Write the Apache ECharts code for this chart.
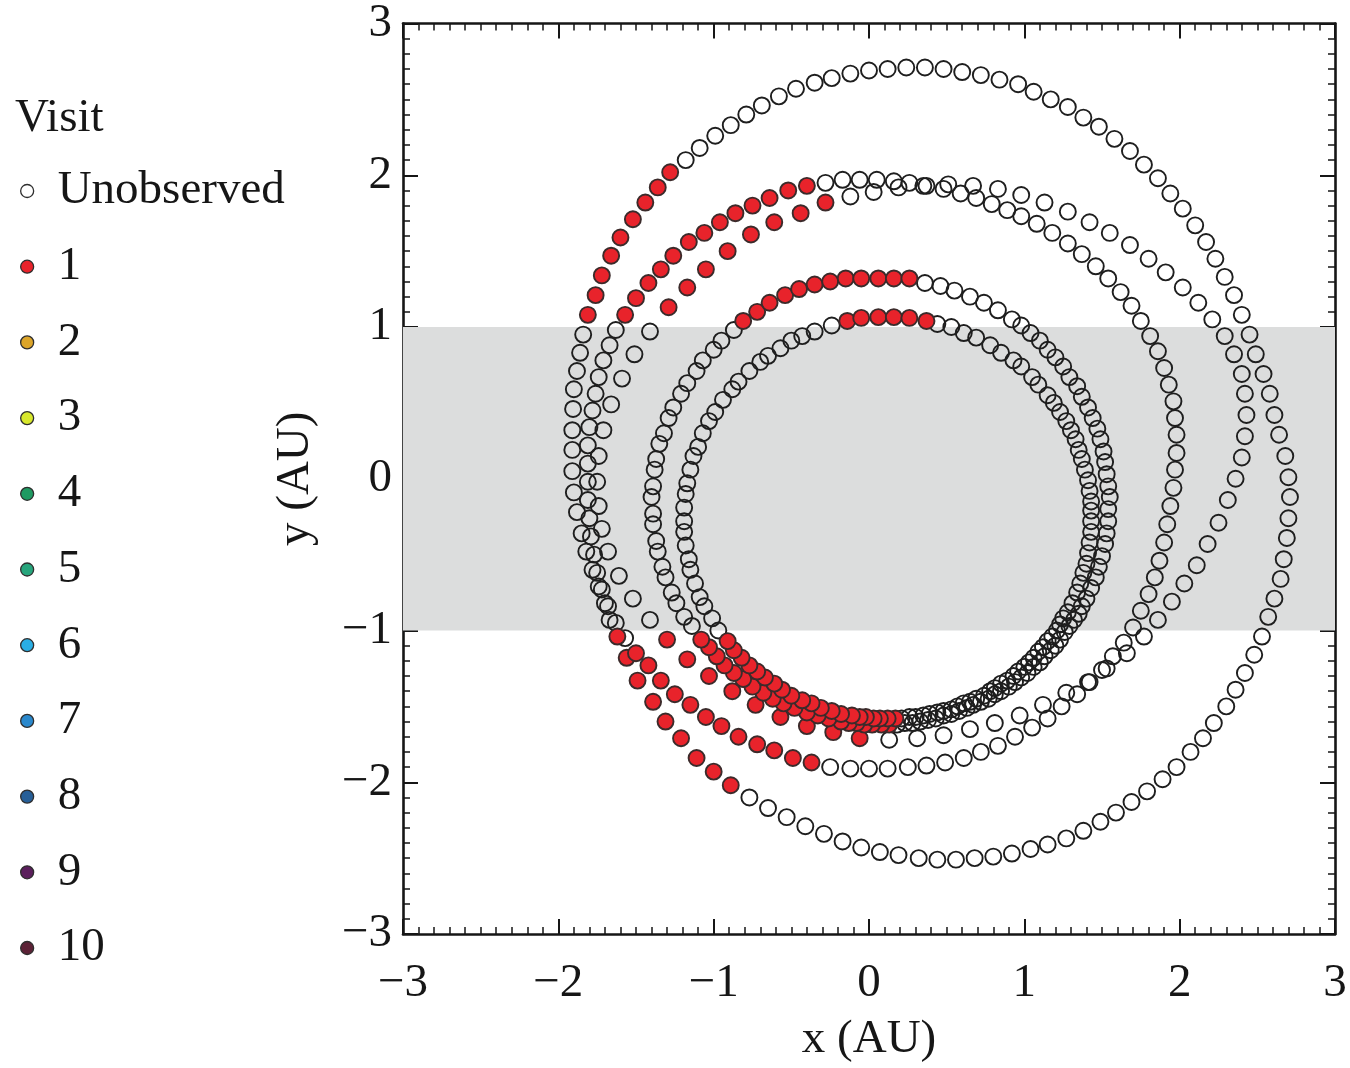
<!DOCTYPE html>
<html>
<head>
<meta charset="utf-8">
<script src="https://cdn.jsdelivr.net/npm/echarts@6/dist/echarts.min.js"></script>
<style>
  html, body { margin: 0; padding: 0; background: #ffffff; }
  #chart { width: 1350px; height: 1068px; }
</style>
</head>
<body>
<div id="chart"></div>
<script>
// Legend categories: visit number of each sampled orbit position
const visitNames = ['Unobserved', '1', '2', '3', '4', '5', '6', '7', '8', '9', '10'];
const visitColors = ['rgba(0,0,0,0)', '#e8232b', '#dca52a', '#d8e82c', '#1f9a62', '#27a57c',
                     '#2aaee4', '#2a88cc', '#275f98', '#5b1f5c', '#5c2236'];

// Band of y that is shaded grey
const bandY = [-1, 1];

// Axis range and major ticks
const axisRange = [-3, 3];
const majorStep = 1;

// Orbit samples: [x (AU), y (AU), visit]; visit 0 = unobserved
const orbitA = [
  [2.58,0.56,0],[2.54,0.69,0],[2.49,0.82,0],[2.45,0.95,0],[2.40,1.08,0],[2.35,1.21,0],[2.29,1.33,0],[2.23,1.45,0],
  [2.17,1.56,0],[2.10,1.67,0],[2.02,1.78,0],[1.94,1.88,0],[1.86,1.98,0],[1.77,2.07,0],[1.68,2.16,0],[1.58,2.24,0],
  [1.48,2.32,0],[1.38,2.38,0],[1.28,2.45,0],[1.17,2.50,0],[1.06,2.55,0],[0.96,2.60,0],[0.84,2.63,0],[0.72,2.66,0],
  [0.60,2.68,0],[0.48,2.70,0],[0.36,2.71,0],[0.24,2.71,0],[0.12,2.70,0],[0.00,2.69,0],[-0.12,2.67,0],[-0.24,2.64,0],
  [-0.35,2.61,0],[-0.47,2.57,0],[-0.58,2.52,0],[-0.69,2.46,0],[-0.79,2.40,0],[-0.89,2.33,0],[-0.99,2.26,0],[-1.09,2.18,0],
  [-1.18,2.10,0],
  [-1.28,2.02,1],[-1.36,1.92,1],[-1.44,1.82,1],[-1.52,1.71,1],[-1.60,1.59,1],[-1.66,1.47,1],[-1.72,1.34,1],[-1.76,1.21,1],
  [-1.81,1.08,1],
  [-1.84,0.95,0],[-1.86,0.83,0],[-1.88,0.71,0],[-1.90,0.59,0],[-1.905,0.46,0],[-1.91,0.32,0],[-1.91,0.19,0],[-1.91,0.05,0],
  [-1.90,-0.09,0],[-1.88,-0.22,0],[-1.85,-0.36,0],[-1.82,-0.48,0],[-1.78,-0.60,0],[-1.74,-0.71,0],[-1.70,-0.82,0],[-1.67,-0.93,0],
  [-1.62,-1.04,1],[-1.56,-1.18,1],[-1.49,-1.33,1],[-1.39,-1.47,1],[-1.31,-1.60,1],[-1.21,-1.71,1],[-1.11,-1.84,1],[-1.00,-1.93,1],
  [-0.89,-2.02,1],
  [-0.77,-2.10,0],[-0.65,-2.17,0],[-0.53,-2.23,0],[-0.41,-2.29,0],[-0.29,-2.34,0],[-0.17,-2.39,0],[-0.05,-2.43,0],[0.07,-2.46,0],
  [0.19,-2.48,0],[0.32,-2.50,0],[0.44,-2.51,0],[0.56,-2.51,0],[0.68,-2.50,0],[0.80,-2.49,0],[0.92,-2.47,0],[1.04,-2.44,0],
  [1.15,-2.41,0],[1.27,-2.37,0],[1.38,-2.32,0],[1.49,-2.26,0],[1.59,-2.20,0],[1.69,-2.13,0],[1.79,-2.06,0],[1.89,-1.98,0],
  [1.98,-1.90,0],[2.07,-1.80,0],[2.15,-1.71,0],[2.22,-1.61,0],[2.30,-1.50,0],[2.36,-1.39,0],[2.42,-1.28,0],[2.48,-1.16,0],
  [2.53,-1.04,0],[2.57,-0.91,0],[2.61,-0.79,0],[2.65,-0.66,0],[2.67,-0.53,0],[2.69,-0.39,0],[2.70,-0.26,0],[2.71,-0.12,0],
  [2.70,0.01,0],[2.68,0.15,0],[2.64,0.29,0],[2.61,0.42,0]
];

const orbitB = [
  [-1.57,1.08,1],[-1.50,1.19,1],[-1.42,1.29,1],[-1.34,1.38,1],[-1.26,1.47,1],[-1.16,1.56,1],[-1.06,1.62,1],[-0.96,1.69,1],
  [-0.86,1.75,1],[-0.75,1.80,1],[-0.64,1.85,1],[-0.52,1.90,1],[-0.40,1.93,1],
  [-0.28,1.95,0],[-0.17,1.97,0],[-0.06,1.97,0],[0.05,1.97,0],[0.16,1.96,0],[0.26,1.95,0],[0.37,1.93,0],[0.48,1.91,0],
  [0.59,1.88,0],[0.69,1.85,0],[0.79,1.81,0],[0.89,1.77,0],[0.98,1.73,0],[1.08,1.68,0],[1.18,1.62,0],[1.28,1.55,0],
  [1.37,1.48,0],[1.46,1.40,0],[1.54,1.32,0],[1.62,1.23,0],[1.69,1.14,0],[1.75,1.04,0],[1.81,0.94,0],[1.86,0.84,0],
  [1.90,0.73,0],[1.93,0.62,0],[1.96,0.51,0],[1.97,0.40,0],[1.98,0.29,0],[1.98,0.17,0],[1.97,0.06,0],[1.96,-0.06,0],
  [1.94,-0.18,0],[1.92,-0.30,0],[1.90,-0.42,0],[1.87,-0.54,0],[1.84,-0.65,0],[1.80,-0.76,0],[1.75,-0.87,0],[1.70,-0.98,0],
  [1.64,-1.08,0],[1.57,-1.17,0],[1.50,-1.26,0],[1.42,-1.34,0],[1.34,-1.42,0],[1.24,-1.50,0],[1.15,-1.58,0],[1.05,-1.64,0],
  [0.94,-1.70,0],[0.83,-1.76,0],[0.72,-1.80,0],[0.61,-1.84,0],[0.49,-1.87,0],[0.37,-1.89,0],[0.25,-1.90,0],[0.12,-1.91,0],
  [0.00,-1.91,0],[-0.12,-1.91,0],[-0.25,-1.90,0],
  [-0.37,-1.87,1],[-0.49,-1.84,1],[-0.61,-1.79,1],[-0.72,-1.75,1],[-0.84,-1.70,1],[-0.95,-1.63,1],[-1.05,-1.57,1],[-1.15,-1.49,1],
  [-1.25,-1.42,1],[-1.34,-1.33,1],[-1.42,-1.23,1],[-1.50,-1.15,1],
  [-1.57,-1.05,0],[-1.63,-0.95,0],[-1.68,-0.84,0],[-1.72,-0.73,0],[-1.75,-0.62,0],[-1.77,-0.50,0],[-1.79,-0.38,0],[-1.80,-0.26,0],
  [-1.81,-0.14,0],[-1.81,-0.02,0],[-1.81,0.10,0],[-1.81,0.22,0],[-1.80,0.34,0],[-1.78,0.45,0],[-1.76,0.56,0],[-1.74,0.67,0],
  [-1.71,0.78,0],[-1.67,0.88,0],[-1.63,0.98,0]
];

const orbitC = [
  [-1.29,1.13,1],[-1.17,1.26,1],[-1.05,1.38,1],[-0.91,1.50,1],[-0.76,1.61,1],[-0.61,1.69,1],[-0.44,1.75,1],[-0.28,1.82,1],
  [-0.12,1.86,0],[0.03,1.89,0],[0.19,1.92,0],[0.35,1.93,0],[0.51,1.94,0],[0.67,1.93,0],[0.83,1.91,0],[0.98,1.87,0],
  [1.13,1.82,0],[1.28,1.76,0],[1.42,1.69,0],[1.55,1.62,0],[1.68,1.54,0],[1.80,1.45,0],[1.91,1.36,0],[2.02,1.26,0],
  [2.12,1.16,0],[2.21,1.05,0],[2.29,0.94,0],[2.35,0.82,0],[2.40,0.69,0],[2.42,0.56,0],[2.43,0.42,0],[2.42,0.28,0],
  [2.40,0.14,0],[2.36,0.00,0],[2.31,-0.14,0],[2.25,-0.29,0],[2.18,-0.43,0],[2.11,-0.57,0],[2.03,-0.69,0],[1.95,-0.81,0],
  [1.86,-0.93,0],[1.77,-1.04,0],[1.66,-1.15,0],[1.53,-1.25,0],[1.41,-1.34,0],[1.27,-1.41,0],[1.12,-1.49,0],[0.97,-1.56,0],
  [0.81,-1.61,0],[0.65,-1.65,0],[0.48,-1.69,0],[0.31,-1.71,0],[0.13,-1.72,0],
  [-0.06,-1.71,1],[-0.23,-1.67,1],[-0.40,-1.63,1],[-0.57,-1.57,1],[-0.73,-1.49,1],[-0.88,-1.40,1],[-1.03,-1.30,1],[-1.17,-1.19,1],
  [-1.30,-1.06,1],
  [-1.41,-0.93,0],[-1.52,-0.79,0],[-1.61,-0.64,0],[-1.68,-0.48,0],[-1.72,-0.33,0],[-1.74,-0.18,0],[-1.75,-0.02,0],[-1.74,0.15,0],
  [-1.71,0.32,0],[-1.66,0.49,0],[-1.59,0.66,0],[-1.51,0.82,0],[-1.41,0.97,0]
];

const orbitD = [
  [-0.81,1.04,1],[-0.72,1.10,1],[-0.64,1.16,1],[-0.54,1.21,1],[-0.45,1.25,1],[-0.35,1.28,1],[-0.25,1.30,1],[-0.15,1.32,1],
  [-0.05,1.32,1],[0.06,1.32,1],[0.16,1.32,1],[0.26,1.32,1],
  [0.36,1.29,0],[0.46,1.27,0],[0.55,1.24,0],[0.65,1.20,0],[0.74,1.16,0],[0.83,1.11,0],[0.92,1.05,0],[0.98,1.01,0],
  [1.04,0.96,0],[1.10,0.91,0],[1.15,0.85,0],[1.20,0.80,0],[1.25,0.74,0],[1.29,0.67,0],[1.34,0.61,0],[1.37,0.54,0],
  [1.41,0.47,0],[1.44,0.40,0],[1.47,0.33,0],
  [1.49,0.26,0],[1.51,0.18,0],[1.52,0.11,0],[1.53,0.03,0],[1.54,-0.05,0],[1.55,-0.12,0],[1.54,-0.20,0],[1.54,-0.28,0],
  [1.53,-0.36,0],[1.52,-0.43,0],[1.50,-0.51,0],[1.48,-0.58,0],[1.46,-0.65,0],[1.43,-0.72,0],[1.40,-0.79,0],[1.37,-0.84,0],
  [1.35,-0.89,0],[1.32,-0.93,0],[1.29,-0.97,0],[1.26,-1.01,0],[1.23,-1.06,0],[1.20,-1.10,0],[1.17,-1.13,0],[1.13,-1.17,0],
  [1.10,-1.21,0],[1.06,-1.24,0],[1.02,-1.28,0],[0.98,-1.31,0],[0.94,-1.34,0],[0.90,-1.37,0],[0.85,-1.40,0],[0.81,-1.42,0],
  [0.77,-1.45,0],[0.72,-1.47,0],[0.67,-1.49,0],[0.63,-1.51,0],[0.58,-1.53,0],[0.53,-1.55,0],[0.48,-1.56,0],[0.43,-1.58,0],
  [0.38,-1.59,0],[0.33,-1.60,0],[0.28,-1.61,0],[0.23,-1.61,0],[0.18,-1.62,0],
  [0.13,-1.62,1],[0.08,-1.62,1],[0.02,-1.62,1],[-0.03,-1.62,1],[-0.08,-1.61,1],[-0.13,-1.61,1],[-0.18,-1.60,1],[-0.26,-1.58,1],
  [-0.33,-1.56,1],[-0.40,-1.54,1],[-0.48,-1.51,1],[-0.55,-1.48,1],[-0.62,-1.45,1],[-0.68,-1.41,1],[-0.75,-1.37,1],[-0.81,-1.32,1],
  [-0.87,-1.28,1],[-0.93,-1.23,1],[-0.98,-1.17,1],[-1.03,-1.11,1],[-1.08,-1.06,1],
  [-1.14,-0.97,0],[-1.19,-0.91,0],[-1.24,-0.82,0],[-1.27,-0.75,0],[-1.31,-0.65,0],[-1.33,-0.58,0],[-1.36,-0.48,0],[-1.37,-0.41,0],
  [-1.39,-0.30,0],[-1.39,-0.23,0],[-1.40,-0.12,0],[-1.39,-0.05,0],[-1.38,0.06,0],[-1.37,0.13,0],[-1.35,0.23,0],[-1.32,0.30,0],
  [-1.29,0.40,0],[-1.26,0.47,0],[-1.21,0.56,0],[-1.17,0.63,0],[-1.11,0.71,0],[-1.07,0.78,0],[-1.00,0.85,0],[-0.95,0.91,0],
  [-0.87,0.98,0]
];

const orbitE = [
  [-0.14,1.04,1],[-0.05,1.06,1],[0.06,1.065,1],[0.16,1.065,1],[0.26,1.06,1],[0.37,1.04,1],
  [0.44,1.02,0],[0.53,1.00,0],[0.61,0.96,0],[0.69,0.93,0],[0.78,0.88,0],[0.85,0.83,0],[0.93,0.78,0],[0.98,0.74,0],
  [1.05,0.67,0],[1.09,0.62,0],[1.15,0.55,0],[1.19,0.50,0],[1.23,0.44,0],[1.27,0.38,0],[1.30,0.32,0],[1.33,0.26,0],
  [1.35,0.19,0],[1.37,0.13,0],
  [1.39,0.06,0],[1.41,-0.01,0],[1.42,-0.08,0],[1.43,-0.15,0],[1.43,-0.21,0],[1.43,-0.28,0],[1.43,-0.35,0],[1.42,-0.42,0],
  [1.41,-0.49,0],[1.40,-0.56,0],[1.38,-0.62,0],[1.36,-0.69,0],[1.34,-0.75,0],[1.31,-0.82,0],[1.28,-0.88,0],
  [1.25,-0.92,0],[1.23,-0.96,0],[1.21,-1.00,0],[1.18,-1.04,0],[1.15,-1.07,0],[1.12,-1.11,0],[1.09,-1.14,0],[1.06,-1.18,0],
  [1.03,-1.21,0],[1.00,-1.24,0],[0.96,-1.27,0],[0.93,-1.30,0],[0.89,-1.33,0],[0.85,-1.35,0],[0.81,-1.38,0],[0.78,-1.40,0],
  [0.74,-1.43,0],[0.69,-1.45,0],[0.65,-1.47,0],[0.61,-1.48,0],[0.57,-1.50,0],[0.53,-1.52,0],[0.48,-1.53,0],[0.44,-1.54,0],
  [0.39,-1.55,0],[0.35,-1.56,0],[0.30,-1.57,0],[0.26,-1.57,0],[0.21,-1.58,0],
  [0.17,-1.58,1],[0.12,-1.58,1],[0.07,-1.58,1],[0.03,-1.58,1],[-0.02,-1.57,1],[-0.06,-1.57,1],[-0.11,-1.56,1],[-0.18,-1.55,1],
  [-0.24,-1.53,1],[-0.31,-1.51,1],[-0.37,-1.48,1],[-0.43,-1.46,1],[-0.50,-1.43,1],[-0.56,-1.39,1],[-0.61,-1.35,1],[-0.67,-1.31,1],
  [-0.72,-1.27,1],[-0.77,-1.23,1],[-0.82,-1.18,1],[-0.87,-1.13,1],[-0.91,-1.07,1],
  [-0.97,-1.00,0],[-1.01,-0.92,0],[-1.06,-0.84,0],[-1.09,-0.78,0],[-1.12,-0.69,0],[-1.15,-0.60,0],[-1.16,-0.53,0],[-1.18,-0.44,0],
  [-1.19,-0.35,0],[-1.19,-0.28,0],[-1.19,-0.19,0],[-1.18,-0.10,0],[-1.17,-0.03,0],[-1.15,0.06,0],[-1.13,0.15,0],[-1.10,0.21,0],
  [-1.07,0.30,0],[-1.03,0.38,0],[-0.99,0.44,0],[-0.94,0.52,0],[-0.88,0.59,0],[-0.84,0.64,0],[-0.77,0.71,0],[-0.70,0.77,0],
  [-0.65,0.81,0],[-0.57,0.86,0],[-0.50,0.91,0],[-0.43,0.94,0],[-0.35,0.97,0],[-0.24,1.01,0]
];

const orbits = [orbitA, orbitB, orbitC, orbitD, orbitE];

// ---- styling ----
const serif = "'Liberation Serif', 'Times New Roman', 'DejaVu Serif', serif";
const ink = '#161616';
const fmtNum = v => (v < 0 ? '\u2212' + Math.abs(v) : String(v));

// one scatter series per visit category (empty ones still appear in the legend)
const visitSeries = visitNames.map((name, v) => {
  const pts = [];
  orbits.forEach(o => o.forEach(p => { if (p[2] === v) pts.push([p[0], p[1]]); }));
  return {
    name: name,
    type: 'scatter',
    xAxisIndex: 0,
    yAxisIndex: 0,
    data: pts,
    symbol: 'circle',
    symbolSize: 16,
    z: 3 + v,
    itemStyle: {
      color: visitColors[v],
      borderColor: v === 0 ? '#1e1e1e' : '#3b2b2b',
      borderWidth: 1.9,
      opacity: 1
    },
    emphasis: { disabled: true }
  };
});

// grey band drawn behind the orbit samples
const bandSeries = {
  name: 'band',
  type: 'scatter',
  data: [],
  z: 1,
  silent: true,
  markArea: {
    silent: true,
    itemStyle: { color: '#dcdddd' },
    data: [[{ yAxis: bandY[0], xAxis: axisRange[0] }, { yAxis: bandY[1], xAxis: axisRange[1] }]]
  }
};

function axisBase(show, extra) {
  return Object.assign({
    type: 'value',
    min: axisRange[0],
    max: axisRange[1],
    interval: majorStep,
    splitLine: { show: false },
    axisLine: { show: true, onZero: false, lineStyle: { color: ink, width: 2.6 } },
    axisTick: { show: true, inside: true, length: 15, lineStyle: { color: ink, width: 2 } },
    minorTick: { show: true, splitNumber: 10, length: 7, lineStyle: { color: ink, width: 1.5 } },
    axisLabel: {
      show: show,
      fontFamily: serif,
      fontSize: 47,
      color: ink,
      formatter: fmtNum
    }
  }, extra);
}

const chart = echarts.init(document.getElementById('chart'), null, { renderer: 'canvas' });
chart.setOption({
  animation: false,
  backgroundColor: '#ffffff',
  title: {
    text: 'Visit',
    left: 10,
    top: 90,
    textStyle: { fontFamily: serif, fontSize: 47, fontWeight: 'normal', color: ink }
  },
  legend: {
    data: visitNames,
    orient: 'vertical',
    left: 15,
    top: 161,
    icon: 'circle',
    itemWidth: 13,
    itemHeight: 13,
    itemGap: 25.7,
    selectedMode: false,
    itemStyle: { borderColor: '#2e2e2e', borderWidth: 1.3 },
    textStyle: { fontFamily: serif, fontSize: 47, color: ink, lineHeight: 50, padding: [0, 0, 0, 19] }
  },
  grid: { left: 403, right: 15, top: 17, bottom: 125 },
  xAxis: [
    axisBase(true, {
      position: 'bottom',
      axisLabel: { show: true, fontFamily: serif, fontSize: 47, color: ink, margin: 26, formatter: fmtNum },
      name: 'x (AU)',
      nameLocation: 'middle',
      nameGap: 82,
      nameTextStyle: { fontFamily: serif, fontSize: 47, color: ink }
    }),
    axisBase(false, { position: 'top' })
  ],
  yAxis: [
    axisBase(true, {
      position: 'left',
      axisLabel: { show: true, fontFamily: serif, fontSize: 47, color: ink, margin: 11, formatter: fmtNum },
      name: 'y (AU)',
      nameLocation: 'middle',
      nameGap: 84,
      nameRotate: 90,
      nameTextStyle: { fontFamily: serif, fontSize: 47, color: ink }
    }),
    axisBase(false, { position: 'right' })
  ],
  series: [bandSeries].concat(visitSeries)
});
</script>
</body>
</html>
